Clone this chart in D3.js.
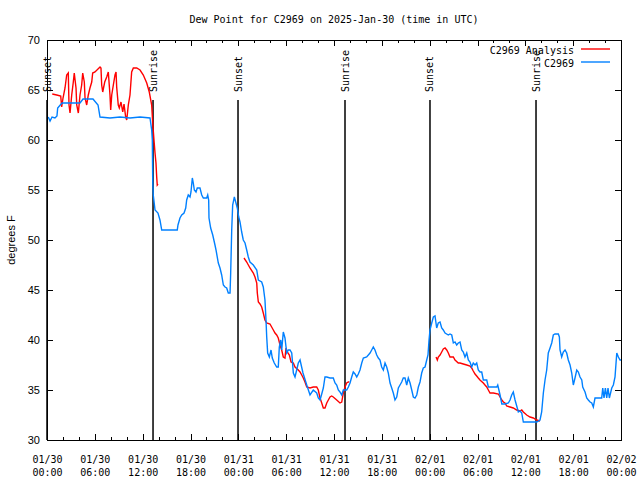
<!DOCTYPE html>
<html><head><meta charset="utf-8">
<script src="https://cdn.jsdelivr.net/npm/d3@7"></script>
<style>body{margin:0;background:#fff} svg{display:block}</style>
</head><body><svg id="c" width="640" height="480"></svg>
<script>
const title = "Dew Point for C2969 on 2025-Jan-30 (time in UTC)";
const yLabel = "degrees F";
const seriesNames = ["C2969 Analysis", "C2969"];
const seriesColors = ["#ff0000", "#0080ff"];
const yTicks = [30, 35, 40, 45, 50, 55, 60, 65, 70];
const startTime = "2025-01-30T00:00:00Z";
const endTime = "2025-02-02T00:00:00Z";
const sunLabels = ["Sunset", "Sunrise", "Sunset", "Sunrise", "Sunset", "Sunrise"];
const sunHours = [0, 13.3, 23.96, 37.38, 48.04, 61.34];

// [hours since start, degrees F]
const c2969 = [[0.16,62.3],[0.38,61.9],[0.63,62.3],[1.00,62.2],[1.25,62.4],[1.34,63.2],[1.88,63.7],[2.51,63.7],[4.14,63.7],[4.52,64.1],[5.77,64.1],[6.40,63.5],[6.65,62.3],[7.90,62.2],[9.16,62.3],[10.41,62.2],[11.67,62.3],[12.92,62.2],[13.13,61],[13.21,60],[13.26,56],[13.33,54.5],[13.55,53],[13.92,52.7],[14.17,52],[14.39,51],[16.34,51],[16.43,51.5],[16.68,52.2],[16.90,52.5],[17.19,52.7],[17.40,53.2],[17.52,54],[17.72,54.5],[17.94,54.3],[18.06,54.8],[18.23,56.2],[18.35,55.7],[18.48,55],[18.69,54.8],[18.85,55.2],[19.19,55.2],[19.41,54.5],[19.61,54.2],[20.03,54.2],[20.16,54.5],[20.28,54.0],[20.32,52.2],[20.53,51.2],[20.79,50.5],[21.07,49.5],[21.20,49],[21.49,47.7],[21.70,47.2],[21.91,46.5],[22.12,45.5],[22.33,45.3],[22.54,45.2],[22.74,44.7],[22.96,44.7],[23.04,46.7],[23.17,51],[23.29,53.5],[23.50,54.3],[23.67,53.8],[23.87,53.2],[24.05,52.3],[24.21,51.8],[24.42,50.8],[24.62,50],[24.84,49.7],[25.05,49],[25.25,48.3],[25.46,47.8],[25.88,47.5],[26.31,47],[26.51,46],[26.93,45.8],[27.13,45.3],[27.34,44],[27.47,42],[27.56,40.3],[27.68,38.7],[27.89,38.3],[28.10,39],[28.26,38.2],[28.51,37.7],[28.81,37.3],[29.01,37.3],[29.14,39.3],[29.32,40],[29.44,39],[29.64,40.8],[29.85,40.2],[30.07,38.7],[30.27,39],[30.48,39],[30.70,38.7],[30.90,36.7],[31.11,36.3],[31.32,37],[31.52,37.7],[31.74,38],[32.11,36.7],[32.58,35.5],[32.99,34.5],[33.40,35],[33.83,34.7],[34.03,34.2],[34.25,34],[34.46,34.6],[34.66,35.2],[34.87,36.3],[35.09,36.3],[35.50,36.2],[35.91,36.2],[36.13,35.7],[36.34,35.5],[36.54,35],[36.75,34.8],[36.97,34.5],[37.17,35],[37.59,35],[37.80,35.3],[38.01,35.7],[38.22,36.3],[38.42,36.8],[38.64,36.6],[38.85,36.3],[39.05,36.6],[39.26,37],[39.48,37.7],[39.68,38.2],[40.10,38.3],[40.52,38.7],[40.73,39],[40.93,39.3],[41.14,39],[41.36,38.5],[41.56,38.2],[41.77,38],[41.98,37.3],[42.19,37],[42.40,37.7],[42.61,37.3],[42.81,36.7],[43.03,35.7],[43.24,35.2],[43.44,34.7],[43.65,34],[43.87,34.3],[44.07,35.2],[44.28,35.5],[44.49,35.8],[44.69,36.2],[44.91,36.2],[45.12,35.5],[45.32,36.2],[45.54,35.7],[45.75,35],[45.95,34.3],[46.16,34.2],[46.38,34.5],[46.58,35.3],[46.79,35.8],[47.00,36.7],[47.20,37.2],[47.42,37.3],[47.63,38],[47.79,38.5],[47.92,40],[48.04,41],[48.26,41.7],[48.46,42.3],[48.67,42.4],[48.88,41.2],[49.08,41.7],[49.30,41.8],[49.51,41.2],[49.71,41.0],[49.93,40.7],[50.34,40.5],[50.55,40.6],[50.77,40.5],[50.97,39.7],[51.18,39.8],[51.39,39.5],[51.59,39.7],[51.81,39.8],[52.02,39],[52.22,38.8],[52.43,38.3],[52.65,38.7],[52.85,38],[53.06,37.8],[53.27,37.3],[53.47,37.7],[53.69,37.5],[53.90,37.7],[54.10,37],[54.31,36.8],[54.53,36.8],[54.73,36],[55.16,36],[55.36,35.3],[56.42,35.3],[56.54,35.5],[56.83,34.5],[57.05,33.6],[57.45,33.6],[57.87,33.7],[58.08,34],[58.29,34.5],[58.49,34.8],[58.71,34],[58.92,33.4],[59.12,32.8],[59.33,32.9],[59.55,32.7],[59.75,31.8],[61.43,31.8],[61.84,32],[62.05,32.8],[62.26,34.7],[62.47,36],[62.68,37],[62.88,38.7],[63.10,39.2],[63.31,39.7],[63.51,40.5],[63.72,40.6],[64.14,40.6],[64.27,40.3],[64.35,39],[64.56,38.3],[64.76,38.8],[64.98,39],[65.19,38.7],[65.39,38],[65.61,37.5],[65.82,36.7],[66.02,35.5],[66.23,36.2],[66.45,37],[66.65,36.8],[66.86,36.3],[67.08,36],[67.20,35.3],[67.37,35],[67.49,34.8],[67.70,34.2],[67.90,34.0],[68.12,33.8],[68.33,33.7],[68.53,33.3],[68.74,34.2],[69.58,34.2],[69.71,35.2],[69.87,34.2],[70.04,35.2],[70.21,34.2],[70.37,35.2],[70.54,34.2],[70.84,35.2],[71.04,35.5],[71.25,36.3],[71.47,38.7],[71.67,38.3],[71.88,38],[72.0,38]];

const analysisPart1 = [[0.66,64.6],[1.22,64.5],[1.72,64.4],[1.84,63.3],[2.01,64.2],[2.26,65.2],[2.47,66.5],[2.67,66.7],[2.76,63.5],[2.89,62.7],[3.10,64.5],[3.30,65.8],[3.42,66.7],[3.64,65.2],[3.73,63.5],[3.93,62.7],[4.14,64.5],[4.35,65.5],[4.48,66.7],[4.68,65.8],[4.77,64.2],[4.98,63.5],[5.18,64.5],[5.39,65.2],[5.61,65.8],[5.73,66.7],[6.02,66.8],[6.65,67.3],[6.77,67.2],[6.86,65.5],[6.99,64.8],[7.24,65.8],[7.49,66.3],[7.69,66.8],[7.90,64.5],[7.99,63],[8.12,64.5],[8.32,65.5],[8.53,66.5],[8.66,66.8],[8.74,65.3],[8.94,63.5],[9.07,63.2],[9.28,63.8],[9.50,62.8],[9.66,63.6],[9.87,62.3],[10.00,62],[10.20,63.5],[10.41,64.5],[10.62,66.8],[10.83,67.2],[11.25,67.2],[11.67,67],[12.08,66.5],[12.51,65.7],[12.83,64.8],[13.13,63.5],[13.26,61.7],[13.42,60],[13.55,58.7],[13.67,57.7],[13.76,56.3],[13.83,55.5],[13.92,55.6]];
const analysisPart2 = [[24.71,48.2],[25.05,47.8],[25.46,47.2],[25.88,46.7],[26.09,46.3],[26.31,45.7],[26.38,44.7],[26.51,43.8],[26.72,43.6],[26.93,43.3],[27.13,42.7],[27.34,42],[27.56,41.7],[27.97,41.6],[28.18,41.3],[28.39,41],[28.60,40.7],[28.81,40.5],[29.01,40.2],[29.23,39.5],[29.44,39],[29.64,38.3],[29.85,38.2],[29.98,39.2],[30.14,38.8],[30.40,38.5],[30.61,37.8],[30.90,37.7],[31.11,37.3],[31.52,37],[31.74,36.8],[31.95,36.5],[32.15,36.2],[32.36,35.8],[32.58,35.3],[32.99,35.2],[33.40,35.3],[33.83,35.3],[34.03,35],[34.25,34.2],[34.46,33.7],[34.66,33.2],[34.87,33.2],[35.09,33.7],[35.29,34],[35.50,34.3],[35.71,34.4],[35.91,34.3],[36.34,34],[36.75,33.7],[36.97,33.8],[37.17,34.7],[37.38,35.3],[37.59,35.7],[37.80,35.8],[37.92,35.8]];
const analysisPart3 = [[48.80,38.3],[48.96,38],[49.08,38.3],[49.30,38.5],[49.51,38.8],[49.71,39.1],[49.93,39.2],[50.14,39.0],[50.34,38.7],[50.55,38.3],[50.97,38.3],[51.18,38],[51.59,37.7],[51.81,37.7],[52.22,37.6],[52.65,37.5],[53.06,37.4],[53.27,37.2],[53.47,36.9],[53.69,36.6],[53.90,36.4],[54.10,36.2],[54.31,36],[54.73,35.7],[54.94,35.5],[55.16,35.3],[55.36,35],[55.57,34.7],[55.99,34.7],[56.62,34.6],[56.83,34.3],[57.05,34],[57.25,33.8],[57.45,33.7],[57.66,33.4],[58.08,33.3],[58.49,33.2],[58.92,33],[59.33,32.9],[59.55,33.0],[59.75,32.8],[60.17,32.5],[60.59,32.3],[61.00,32.2],[61.43,32],[61.84,31.9]];

const L = 47, R = 621, T = 40, B = 440;
const svg = d3.select("#c");
const t0 = new Date(startTime);
const toDate = h => new Date(t0.getTime() + h * 3600e3);

const x = d3.scaleUtc().domain([t0, new Date(endTime)]).range([L, R]);
const y = d3.scaleLinear().domain([30, 70]).range([B, T]);

const mono = "'DejaVu Sans Mono', monospace";
const sans = "'Liberation Sans', Arial, sans-serif";

// title
svg.append("text").attr("x", (L + R) / 2).attr("y", 23).attr("text-anchor", "middle")
  .attr("font-family", mono).attr("font-size", 10).text(title);

// y label
svg.append("text").attr("transform", `translate(15,${(T + B) / 2}) rotate(-90)`)
  .attr("text-anchor", "middle").attr("font-family", sans).attr("font-size", 11).text(yLabel);

// axes
const fmtD = d3.utcFormat("%m/%d"), fmtT = d3.utcFormat("%H:%M");
const majorX = d3.utcHour.every(6).range(t0, new Date(new Date(endTime).getTime() + 1));
const minorX = d3.utcHour.every(2).range(t0, new Date(new Date(endTime).getTime() + 1));

function styleAxis(g) {
  g.select(".domain").remove();
  g.selectAll("line").attr("stroke", "#000").attr("stroke-width", 1).attr("shape-rendering", "crispEdges");
}

svg.append("g").attr("transform", `translate(0,${B})`)
  .call(d3.axisBottom(x).tickValues(minorX).tickSize(-3).tickFormat(""))
  .call(styleAxis).selectAll("text").remove();
svg.append("g").attr("transform", `translate(0,${T})`)
  .call(d3.axisTop(x).tickValues(minorX).tickSize(-3).tickFormat(""))
  .call(styleAxis).selectAll("text").remove();
const gxb = svg.append("g").attr("transform", `translate(0,${B})`)
  .call(d3.axisBottom(x).tickValues(majorX).tickSize(-6).tickSizeOuter(0))
  .call(styleAxis);
gxb.selectAll(".tick text").remove();
gxb.selectAll(".tick").append("text").attr("text-anchor", "middle")
  .attr("font-family", mono).attr("font-size", 10).attr("fill", "#000")
  .each(function (d) {
    const t = d3.select(this);
    t.append("tspan").attr("x", 0).attr("y", 23).text(fmtD(d));
    t.append("tspan").attr("x", 0).attr("y", 36).text(fmtT(d));
  });
svg.append("g").attr("transform", `translate(0,${T})`)
  .call(d3.axisTop(x).tickValues(majorX).tickSize(-6).tickFormat(""))
  .call(styleAxis).selectAll("text").remove();

const gyl = svg.append("g").attr("transform", `translate(${L},0)`)
  .call(d3.axisLeft(y).tickValues(yTicks).tickSize(-6).tickPadding(7).tickFormat(d3.format("d")))
  .call(styleAxis);
gyl.selectAll("text").attr("font-family", sans).attr("font-size", 11).attr("fill", "#000");
svg.append("g").attr("transform", `translate(${R},0)`)
  .call(d3.axisRight(y).tickValues(yTicks).tickSize(-6).tickFormat(""))
  .call(styleAxis).selectAll("text").remove();

// sunrise/sunset markers
const sun = svg.append("g");
sunHours.forEach((h, i) => {
  const sx = x(toDate(h));
  sun.append("line").attr("x1", sx).attr("x2", sx)
    .attr("y1", y(30 + 0.85 * 40)).attr("y2", B)
    .attr("stroke", "#000").attr("stroke-width", 1.5);
  sun.append("text").attr("transform", `translate(${sx},${y(30 + 0.87 * 40)}) rotate(-90)`)
    .attr("dy", "0.35em").attr("font-family", mono).attr("font-size", 10).text(sunLabels[i]);
});

// data lines
const line = d3.line().x(d => x(toDate(d[0]))).y(d => y(d[1]));
const lines = svg.append("g");
[analysisPart1, analysisPart2, analysisPart3].forEach(part => {
  lines.append("path").datum(part).attr("d", line).attr("fill", "none")
    .attr("stroke", seriesColors[0]).attr("stroke-width", 1.4);
});
lines.append("path").datum(c2969).attr("d", line).attr("fill", "none")
  .attr("stroke", seriesColors[1]).attr("stroke-width", 1.4);

// border
svg.append("rect").attr("x", L).attr("y", T).attr("width", R - L).attr("height", B - T)
  .attr("fill", "none").attr("stroke", "#000").attr("stroke-width", 1).attr("shape-rendering", "crispEdges");

// legend
const leg = svg.append("g");
seriesNames.forEach((n, i) => {
  const ly = 50 + i * 13;
  leg.append("text").attr("x", 574).attr("y", ly).attr("dy", "0.35em").attr("text-anchor", "end")
    .attr("font-family", mono).attr("font-size", 10).text(n);
  leg.append("line").attr("x1", 581).attr("x2", 610).attr("y1", ly - 1).attr("y2", ly - 1)
    .attr("stroke", seriesColors[i]).attr("stroke-width", 1.4);
});
</script></body></html>
